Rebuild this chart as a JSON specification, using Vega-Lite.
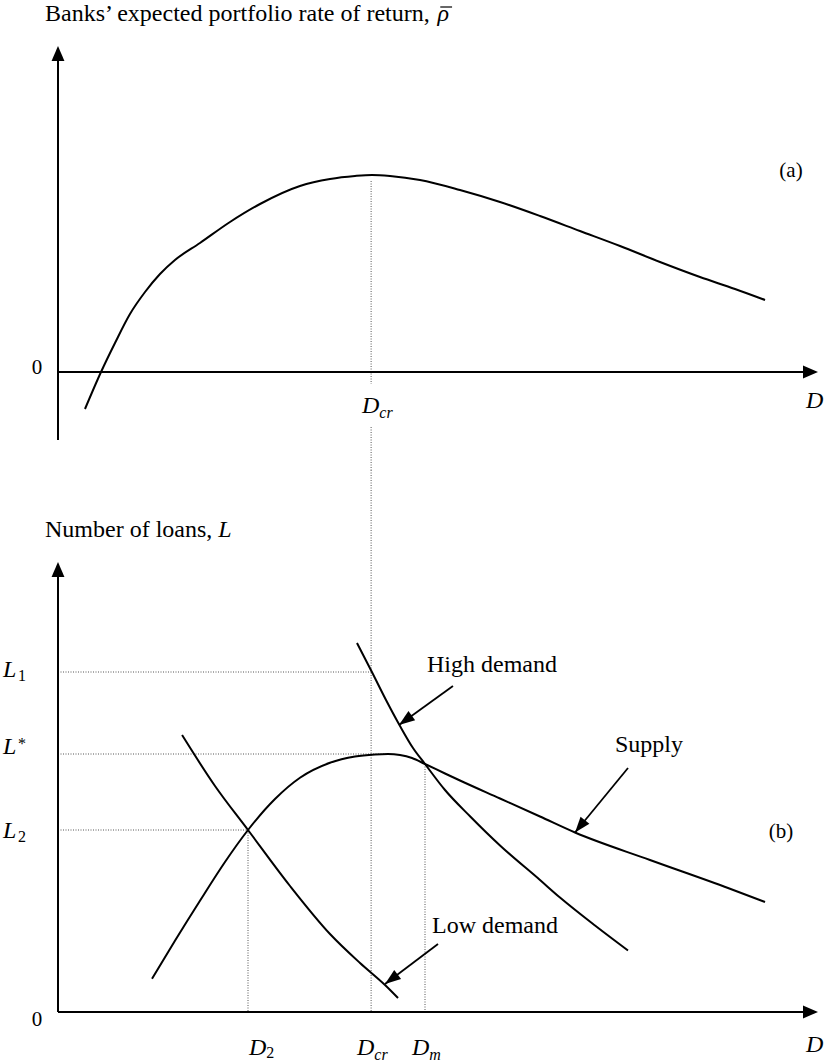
{
  "$schema": "https://vega.github.io/schema/vega-lite/v6.json",
  "padding": 0,
  "spacing": 0,
  "bounds": "flush",
  "background": "white",
  "config": {"view": {"stroke": null}, "font": "Liberation Serif"},
  "datasets": {
    "curveA": [
      {"D": 3.55, "rho": -1.85}, {"D": 5.66, "rho": 0}, {"D": 7.5, "rho": 1.45}, {"D": 9.47, "rho": 2.9},
      {"D": 11.45, "rho": 4.0}, {"D": 13.42, "rho": 4.9}, {"D": 15.39, "rho": 5.6}, {"D": 18.68, "rho": 6.45},
      {"D": 22.63, "rho": 7.5}, {"D": 26.58, "rho": 8.4}, {"D": 31.84, "rho": 9.3}, {"D": 35.79, "rho": 9.65},
      {"D": 39.08, "rho": 9.8}, {"D": 41.32, "rho": 9.85}, {"D": 43.68, "rho": 9.8}, {"D": 47.63, "rho": 9.6},
      {"D": 52.89, "rho": 9.1}, {"D": 58.16, "rho": 8.5}, {"D": 63.42, "rho": 7.8}, {"D": 68.68, "rho": 7.05},
      {"D": 73.95, "rho": 6.3}, {"D": 79.21, "rho": 5.5}, {"D": 84.47, "rho": 4.75}, {"D": 89.08, "rho": 4.15},
      {"D": 93.03, "rho": 3.6}
    ],
    "guidesA": [
      {"D": 41.2, "rho": 9.55, "D_end": 41.2, "rho_end": -0.6},
      {"D": 41.2, "rho": -2.75, "D_end": 41.2, "rho_end": -4.9}
    ],
    "axesA": [
      {"D": 0, "rho": -3.4, "D_end": 0, "rho_end": 15.8},
      {"D": 0, "rho": 0, "D_end": 99, "rho_end": 0}
    ],
    "macronA": [
      {"D": 50.3, "rho": 18.25, "D_end": 51.85, "rho_end": 18.25}
    ],
    "tipsA": [
      {"dir": "up", "D": 0, "rho": 16.3},
      {"dir": "right", "D": 100, "rho": 0}
    ],
    "labelsA": [
      {"kind": "title", "text": "Banks\u2019 expected portfolio rate of return,", "D": -1.71, "rho": 17.55},
      {"kind": "titleItalic", "text": "\u03c1", "D": 49.95, "rho": 17.55},
      {"kind": "roman", "text": "0", "D": -2.76, "rho": 0.2},
      {"kind": "roman", "text": "(a)", "D": 96.45, "rho": 10.05},
      {"kind": "italic", "text": "D", "D": 98.42, "rho": -1.8},
      {"kind": "italic", "text": "D", "D": 40.0, "rho": -2.05},
      {"kind": "subItalic", "text": "cr", "D": 42.28, "rho": -2.3}
    ],
    "curvesB": [
      {"curve": "Supply", "D": 12.37, "L": 1.33}, {"curve": "Supply", "D": 15.39, "L": 2.85},
      {"curve": "Supply", "D": 18.68, "L": 4.45}, {"curve": "Supply", "D": 21.97, "L": 6.0},
      {"curve": "Supply", "D": 25.0, "L": 7.28}, {"curve": "Supply", "D": 28.55, "L": 8.52},
      {"curve": "Supply", "D": 31.84, "L": 9.37}, {"curve": "Supply", "D": 35.79, "L": 9.97},
      {"curve": "Supply", "D": 39.08, "L": 10.22}, {"curve": "Supply", "D": 41.71, "L": 10.3},
      {"curve": "Supply", "D": 43.42, "L": 10.32}, {"curve": "Supply", "D": 45.0, "L": 10.28},
      {"curve": "Supply", "D": 46.58, "L": 10.16}, {"curve": "Supply", "D": 48.29, "L": 9.92},
      {"curve": "Supply", "D": 50.92, "L": 9.54}, {"curve": "Supply", "D": 52.89, "L": 9.26},
      {"curve": "Supply", "D": 58.16, "L": 8.54}, {"curve": "Supply", "D": 63.42, "L": 7.82},
      {"curve": "Supply", "D": 68.03, "L": 7.18}, {"curve": "Supply", "D": 77.89, "L": 6.08},
      {"curve": "Supply", "D": 88.16, "L": 4.96}, {"curve": "Supply", "D": 93.03, "L": 4.4},
      {"curve": "High demand", "D": 39.34, "L": 14.76}, {"curve": "High demand", "D": 41.32, "L": 13.59},
      {"curve": "High demand", "D": 43.16, "L": 12.48}, {"curve": "High demand", "D": 45.0, "L": 11.44},
      {"curve": "High demand", "D": 46.71, "L": 10.56}, {"curve": "High demand", "D": 48.29, "L": 9.92},
      {"curve": "High demand", "D": 50.92, "L": 8.88}, {"curve": "High demand", "D": 54.21, "L": 7.83},
      {"curve": "High demand", "D": 58.16, "L": 6.66}, {"curve": "High demand", "D": 63.42, "L": 5.28},
      {"curve": "High demand", "D": 66.05, "L": 4.58}, {"curve": "High demand", "D": 70.66, "L": 3.46},
      {"curve": "High demand", "D": 75.0, "L": 2.46},
      {"curve": "Low demand", "D": 16.32, "L": 11.08}, {"curve": "Low demand", "D": 20.66, "L": 9.04},
      {"curve": "Low demand", "D": 25.0, "L": 7.28}, {"curve": "Low demand", "D": 30.53, "L": 5.04},
      {"curve": "Low demand", "D": 35.79, "L": 3.12}, {"curve": "Low demand", "D": 39.74, "L": 1.96},
      {"curve": "Low demand", "D": 43.03, "L": 1.08}, {"curve": "Low demand", "D": 44.74, "L": 0.56}
    ],
    "guidesB": [
      {"D": 41.2, "L": 21.68, "D_end": 41.2, "L_end": 0},
      {"D": 0, "L": 13.6, "D_end": 41.2, "L_end": 13.6},
      {"D": 0, "L": 10.32, "D_end": 43.42, "L_end": 10.32},
      {"D": 0, "L": 7.28, "D_end": 25.0, "L_end": 7.28},
      {"D": 25.0, "L": 7.28, "D_end": 25.0, "L_end": 0},
      {"D": 48.29, "L": 9.92, "D_end": 48.29, "L_end": 0}
    ],
    "axesB": [
      {"D": 0, "L": 0, "D_end": 0, "L_end": 17.5},
      {"D": 0, "L": 0, "D_end": 99, "L_end": 0}
    ],
    "tipsB": [
      {"dir": "up", "D": 0, "L": 18.0},
      {"dir": "right", "D": 100, "L": 0}
    ],
    "pointersB": [
      {"curve": "High demand", "D": 51.97, "L": 13.04, "D_end": 44.87, "L_end": 11.48},
      {"curve": "Low demand", "D": 50.0, "L": 2.72, "D_end": 43.03, "L_end": 1.12},
      {"curve": "Supply", "D": 75.0, "L": 9.76, "D_end": 68.03, "L_end": 7.18}
    ],
    "labelsB": [
      {"kind": "title", "text": "Number of loans,", "D": -1.71, "L": 19.0},
      {"kind": "titleItalic", "text": "L", "D": 21.09, "L": 19.0},
      {"kind": "roman", "text": "0", "D": -2.76, "L": -0.32},
      {"kind": "roman", "text": "(b)", "D": 95.13, "L": 7.2},
      {"kind": "note", "text": "High demand", "D": 48.55, "L": 13.6},
      {"kind": "note", "text": "Supply", "D": 73.29, "L": 10.4},
      {"kind": "note", "text": "Low demand", "D": 49.21, "L": 3.16},
      {"kind": "italic", "text": "L", "D": -7.24, "L": 13.4},
      {"kind": "italic", "text": "L", "D": -7.24, "L": 10.32},
      {"kind": "italic", "text": "L", "D": -7.24, "L": 6.96},
      {"kind": "italic", "text": "D", "D": 25.13, "L": -1.72},
      {"kind": "italic", "text": "D", "D": 39.34, "L": -1.72},
      {"kind": "italic", "text": "D", "D": 46.58, "L": -1.72},
      {"kind": "italic", "text": "D", "D": 98.42, "L": -1.6},
      {"kind": "sub", "text": "1", "D": -5.26, "L": 13.24},
      {"kind": "sub", "text": "*", "D": -5.26, "L": 10.52},
      {"kind": "sub", "text": "2", "D": -5.26, "L": 6.8},
      {"kind": "sub", "text": "2", "D": 27.4, "L": -1.84},
      {"kind": "subItalic", "text": "cr", "D": 41.62, "L": -1.92},
      {"kind": "subItalic", "text": "m", "D": 48.86, "L": -1.92}
    ]
  },
  "vconcat": [
    {
      "width": 829,
      "height": 470,
      "encoding": {
        "x": {"field": "D", "type": "quantitative", "scale": {"domain": [-7.6316, 101.4474], "nice": false, "zero": false}, "axis": null},
        "y": {"field": "rho", "type": "quantitative", "scale": {"domain": [-4.9, 18.6], "nice": false, "zero": false}, "axis": null}
      },
      "layer": [
        {"data": {"name": "guidesA"}, "mark": {"type": "rule", "color": "#555", "strokeWidth": 1, "strokeDash": [1, 1.5]},
         "encoding": {"x2": {"field": "D_end"}, "y2": {"field": "rho_end"}}},
        {"data": {"name": "axesA"}, "mark": {"type": "rule", "color": "black", "strokeWidth": 2},
         "encoding": {"x2": {"field": "D_end"}, "y2": {"field": "rho_end"}}},
        {"data": {"name": "macronA"}, "mark": {"type": "rule", "color": "black", "strokeWidth": 1.2},
         "encoding": {"x2": {"field": "D_end"}, "y2": {"field": "rho_end"}}},
        {"data": {"name": "tipsA"}, "transform": [{"filter": "datum.dir === 'up'"}],
         "mark": {"type": "point", "shape": "M0,0L-0.43,1L0.43,1Z", "filled": true, "color": "black", "opacity": 1, "size": 900, "strokeWidth": 0}},
        {"data": {"name": "tipsA"}, "transform": [{"filter": "datum.dir === 'right'"}],
         "mark": {"type": "point", "shape": "M0,0L-0.43,1L0.43,1Z", "angle": 90, "filled": true, "color": "black", "opacity": 1, "size": 900, "strokeWidth": 0}},
        {"data": {"name": "curveA"}, "mark": {"type": "line", "color": "black", "strokeWidth": 2, "interpolate": "monotone"}},
        {"data": {"name": "labelsA"}, "transform": [{"filter": "datum.kind === 'title'"}],
         "mark": {"type": "text", "fontSize": 24, "align": "left", "baseline": "alphabetic", "color": "black"},
         "encoding": {"text": {"field": "text"}}},
        {"data": {"name": "labelsA"}, "transform": [{"filter": "datum.kind === 'titleItalic'"}],
         "mark": {"type": "text", "fontSize": 24, "fontStyle": "italic", "align": "left", "baseline": "alphabetic", "color": "black"},
         "encoding": {"text": {"field": "text"}}},
        {"data": {"name": "labelsA"}, "transform": [{"filter": "datum.kind === 'roman'"}],
         "mark": {"type": "text", "fontSize": 21, "align": "center", "baseline": "middle", "color": "black"},
         "encoding": {"text": {"field": "text"}}},
        {"data": {"name": "labelsA"}, "transform": [{"filter": "datum.kind === 'italic'"}],
         "mark": {"type": "text", "fontSize": 24, "fontStyle": "italic", "align": "left", "baseline": "alphabetic", "color": "black"},
         "encoding": {"text": {"field": "text"}}},
        {"data": {"name": "labelsA"}, "transform": [{"filter": "datum.kind === 'subItalic'"}],
         "mark": {"type": "text", "fontSize": 16, "fontStyle": "italic", "align": "left", "baseline": "alphabetic", "color": "black"},
         "encoding": {"text": {"field": "text"}}}
      ]
    },
    {
      "width": 829,
      "height": 592,
      "encoding": {
        "x": {"field": "D", "type": "quantitative", "scale": {"domain": [-7.6316, 101.4474], "nice": false, "zero": false}, "axis": null},
        "y": {"field": "L", "type": "quantitative", "scale": {"domain": [-2, 21.68], "nice": false, "zero": false}, "axis": null}
      },
      "layer": [
        {"data": {"name": "guidesB"}, "mark": {"type": "rule", "color": "#555", "strokeWidth": 1, "strokeDash": [1, 1.5]},
         "encoding": {"x2": {"field": "D_end"}, "y2": {"field": "L_end"}}},
        {"data": {"name": "axesB"}, "mark": {"type": "rule", "color": "black", "strokeWidth": 2},
         "encoding": {"x2": {"field": "D_end"}, "y2": {"field": "L_end"}}},
        {"data": {"name": "tipsB"}, "transform": [{"filter": "datum.dir === 'up'"}],
         "mark": {"type": "point", "shape": "M0,0L-0.43,1L0.43,1Z", "filled": true, "color": "black", "opacity": 1, "size": 900, "strokeWidth": 0}},
        {"data": {"name": "tipsB"}, "transform": [{"filter": "datum.dir === 'right'"}],
         "mark": {"type": "point", "shape": "M0,0L-0.43,1L0.43,1Z", "angle": 90, "filled": true, "color": "black", "opacity": 1, "size": 900, "strokeWidth": 0}},
        {"data": {"name": "curvesB"}, "mark": {"type": "line", "color": "black", "strokeWidth": 2, "interpolate": "monotone"},
         "encoding": {"detail": {"field": "curve"}}},
        {"data": {"name": "pointersB"}, "mark": {"type": "rule", "color": "black", "strokeWidth": 1.8},
         "encoding": {"x2": {"field": "D_end"}, "y2": {"field": "L_end"}}},
        {"data": {"name": "pointersB"}, "transform": [{"filter": "datum.curve === 'High demand'"}],
         "mark": {"type": "point", "shape": "M0,0L-0.36,1L0.36,1Z", "angle": 234, "filled": true, "color": "black", "opacity": 1, "size": 1000, "strokeWidth": 0},
         "encoding": {"x": {"field": "D_end", "type": "quantitative"}, "y": {"field": "L_end", "type": "quantitative"}}},
        {"data": {"name": "pointersB"}, "transform": [{"filter": "datum.curve === 'Low demand'"}],
         "mark": {"type": "point", "shape": "M0,0L-0.36,1L0.36,1Z", "angle": 233, "filled": true, "color": "black", "opacity": 1, "size": 1000, "strokeWidth": 0},
         "encoding": {"x": {"field": "D_end", "type": "quantitative"}, "y": {"field": "L_end", "type": "quantitative"}}},
        {"data": {"name": "pointersB"}, "transform": [{"filter": "datum.curve === 'Supply'"}],
         "mark": {"type": "point", "shape": "M0,0L-0.36,1L0.36,1Z", "angle": 219, "filled": true, "color": "black", "opacity": 1, "size": 1000, "strokeWidth": 0},
         "encoding": {"x": {"field": "D_end", "type": "quantitative"}, "y": {"field": "L_end", "type": "quantitative"}}},
        {"data": {"name": "labelsB"}, "transform": [{"filter": "datum.kind === 'title'"}],
         "mark": {"type": "text", "fontSize": 24, "align": "left", "baseline": "alphabetic", "color": "black"},
         "encoding": {"text": {"field": "text"}}},
        {"data": {"name": "labelsB"}, "transform": [{"filter": "datum.kind === 'titleItalic'"}],
         "mark": {"type": "text", "fontSize": 24, "fontStyle": "italic", "align": "left", "baseline": "alphabetic", "color": "black"},
         "encoding": {"text": {"field": "text"}}},
        {"data": {"name": "labelsB"}, "transform": [{"filter": "datum.kind === 'roman'"}],
         "mark": {"type": "text", "fontSize": 21, "align": "center", "baseline": "middle", "color": "black"},
         "encoding": {"text": {"field": "text"}}},
        {"data": {"name": "labelsB"}, "transform": [{"filter": "datum.kind === 'note'"}],
         "mark": {"type": "text", "fontSize": 24, "align": "left", "baseline": "alphabetic", "color": "black"},
         "encoding": {"text": {"field": "text"}}},
        {"data": {"name": "labelsB"}, "transform": [{"filter": "datum.kind === 'italic'"}],
         "mark": {"type": "text", "fontSize": 24, "fontStyle": "italic", "align": "left", "baseline": "alphabetic", "color": "black"},
         "encoding": {"text": {"field": "text"}}},
        {"data": {"name": "labelsB"}, "transform": [{"filter": "datum.kind === 'sub'"}],
         "mark": {"type": "text", "fontSize": 16, "align": "left", "baseline": "alphabetic", "color": "black"},
         "encoding": {"text": {"field": "text"}}},
        {"data": {"name": "labelsB"}, "transform": [{"filter": "datum.kind === 'subItalic'"}],
         "mark": {"type": "text", "fontSize": 16, "fontStyle": "italic", "align": "left", "baseline": "alphabetic", "color": "black"},
         "encoding": {"text": {"field": "text"}}}
      ]
    }
  ]
}
